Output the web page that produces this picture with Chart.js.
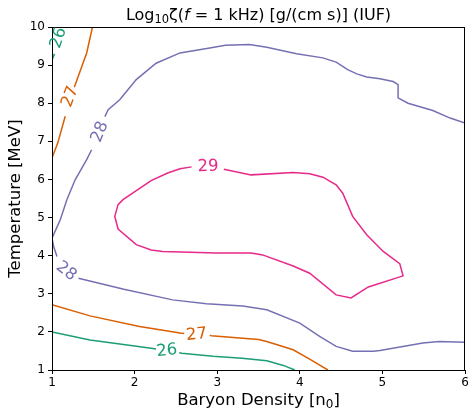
<!DOCTYPE html>
<html>
<head>
<meta charset="utf-8">
<script src="https://cdn.jsdelivr.net/npm/chart.js@4"></script>
<style>
  html, body { margin: 0; padding: 0; background: #fff; }
  #wrap { width: 468px; height: 411px; }
</style>
</head>
<body>
<div id="wrap"><canvas id="plot" width="468" height="411"></canvas></div>
<script>
// contour lines, [density, temperature]; [x, null] breaks the line where a label sits
var c26_low = [[1,2.0],[1.46,1.79],[2.0,1.63],[2.2,1.57],[2.26,1.55],[2.4,null],[2.54,1.45],[2.57,1.44],[2.95,1.36],[3.3,1.31],[3.6,1.24],[3.8,1.12],[3.94,1.0]];
var c26_top = [[1,9.13],[1.03,9.3],[1.05,null],[1.1,10]];
var c27_low = [[1,2.71],[1.46,2.42],[2.06,2.14],[2.55,1.97],[2.6,1.96],[2.75,null],[2.91,1.91],[2.93,1.90],[3.5,1.80],[3.6,1.75],[3.92,1.53],[4.13,1.27],[4.34,1.0]];
var c27_top = [[1,6.56],[1.07,6.96],[1.16,7.66],[1.2,null],[1.27,8.42],[1.42,9.32],[1.49,10]];
var c28 = [[6,7.48],[5.82,7.61],[5.61,7.81],[5.31,8.0],[5.19,8.14],[5.19,8.49],[5.13,8.57],[4.97,8.64],[4.81,8.69],[4.69,8.77],[4.58,8.88],[4.44,9.08],[4.28,9.19],[3.96,9.30],[3.6,9.47],[3.39,9.54],[3.1,9.52],[2.91,9.45],[2.55,9.32],[2.26,9.05],[2.02,8.62],[1.82,8.09],[1.68,7.83],[1.64,7.65],[1.57,null],[1.48,6.78],[1.42,6.52],[1.28,5.99],[1.18,5.47],[1.10,4.94],[1.0,4.46],[1.02,4.24],[1.06,3.98],[1.15,null],[1.32,3.41],[1.87,3.12],[2.46,2.84],[2.87,2.74],[3.31,2.68],[3.6,2.58],[4.0,2.23],[4.24,1.88],[4.44,1.62],[4.64,1.49],[4.89,1.49],[4.97,1.51],[5.49,1.71],[5.69,1.75],[6,1.73]];
var c29 = [[3.08,6.27],[3.41,6.12],[3.92,6.18],[4.12,6.15],[4.28,6.06],[4.44,5.86],[4.52,5.64],[4.64,5.03],[4.81,4.55],[5.01,4.11],[5.21,3.79],[5.25,3.47],[4.83,3.18],[4.62,2.89],[4.44,2.97],[4.12,3.54],[3.92,3.73],[3.55,4.02],[3.41,4.07],[2.99,4.07],[2.34,4.11],[2.20,4.15],[2.02,4.29],[1.80,4.70],[1.76,5.03],[1.80,5.34],[1.86,5.47],[2.20,5.97],[2.40,6.17],[2.55,6.28],[2.69,6.33]];

// inline contour labels: text, x, y, rotation (deg)
var labelText  = ['26', '26', '27', '27', '28', '28', '29'];
var labelX     = [1.07, 2.39, 1.21, 2.75, 1.57, 1.18, 2.89];
var labelY     = [9.72, 1.53, 8.18, 1.95, 7.26, 3.61, 6.36];
var labelAngle = [-72, -6, -69, -5, -68, 38, -2];
var labelColor = ['#1b9e77', '#1b9e77', '#d95f02', '#d95f02', '#7570b3', '#7570b3', '#e7298a'];

var xTicks = [1, 2, 3, 4, 5, 6];
var yTicks = [1, 2, 3, 4, 5, 6, 7, 8, 9, 10];

function pts(arr) {
    return arr.map(function (p) { return {x: p[0], y: p[1]}; });
}

function line(arr, color) {
    return {
        data: pts(arr),
        borderColor: color,
        backgroundColor: color,
        borderWidth: 1.5,
        showLine: true,
        spanGaps: false,
        pointRadius: 0,
        tension: 0
    };
}

var FONT = '"DejaVu Sans", sans-serif';

// frame, contour labels, title and axis titles
var decor = {
    id: 'decor',
    afterDatasetsDraw: function (chart) {
        var ctx = chart.ctx, a = chart.chartArea;
        var xs = chart.scales.x, ys = chart.scales.y;
        ctx.save();
        ctx.strokeStyle = '#000';
        ctx.lineWidth = 1;
        ctx.strokeRect(a.left + 0.5, a.top + 0.5, a.right - a.left - 1, a.bottom - a.top);

        ctx.font = '16.5px ' + FONT;
        ctx.textAlign = 'center';
        ctx.textBaseline = 'middle';
        for (var i = 0; i < labelText.length; i++) {
            ctx.save();
            ctx.translate(xs.getPixelForValue(labelX[i]), ys.getPixelForValue(labelY[i]));
            ctx.rotate(labelAngle[i] * Math.PI / 180);
            ctx.fillStyle = labelColor[i];
            ctx.fillText(labelText[i], 0, 1);
            ctx.restore();
        }

        ctx.fillStyle = '#000';
        ctx.textBaseline = 'alphabetic';
        ctx.textAlign = 'left';
        var cx = (a.left + a.right) / 2;

        // title: Log10 ζ(f = 1 kHz) [g/(cm s)] (IUF)
        var parts = [
            ['Log', '16px ' + FONT, 0],
            ['10', '11.5px ' + FONT, 3],
            ['ζ(', '16px ' + FONT, 0],
            ['f', 'oblique 16px ' + FONT, 0],
            [' = 1 kHz) [g/(cm s)] (IUF)', '16px ' + FONT, 0]
        ];
        drawParts(ctx, parts, cx, 20);

        // x axis title
        var xp = [
            ['Baryon Density [n', '16.5px ' + FONT, 0],
            ['0', '12px ' + FONT, 3],
            [']', '16.5px ' + FONT, 0]
        ];
        drawParts(ctx, xp, cx, 405);

        // y axis title
        ctx.save();
        ctx.translate(20, (a.top + a.bottom) / 2);
        ctx.rotate(-Math.PI / 2);
        ctx.font = '16.5px ' + FONT;
        ctx.textAlign = 'center';
        ctx.fillText('Temperature [MeV]', 0, 0);
        ctx.restore();
        ctx.restore();
    }
};

function drawParts(ctx, parts, cx, y) {
    var w = 0;
    parts.forEach(function (p) { ctx.font = p[1]; w += ctx.measureText(p[0]).width; });
    var x = cx - w / 2;
    parts.forEach(function (p) {
        ctx.font = p[1];
        ctx.fillText(p[0], x, y + p[2]);
        x += ctx.measureText(p[0]).width;
    });
}

var tickFont = {family: FONT, size: 12};

new Chart(document.getElementById('plot'), {
    type: 'scatter',
    data: {
        datasets: [
            line(c26_low, '#1b9e77'),
            line(c26_top, '#1b9e77'),
            line(c27_low, '#d95f02'),
            line(c27_top, '#d95f02'),
            line(c28, '#7570b3'),
            line(c29, '#e7298a')
        ]
    },
    options: {
        responsive: false,
        animation: false,
        devicePixelRatio: 1,
        layout: {padding: {top: 27, right: 3, left: 0, bottom: 0}},
        plugins: {legend: {display: false}, tooltip: {enabled: false}, title: {display: false}},
        scales: {
            x: {
                type: 'linear',
                min: 1, max: 6,
                afterFit: function (s) { s.height = 41; s.paddingLeft = 0; s.paddingRight = 0; },
                afterBuildTicks: function (s) { s.ticks = xTicks.map(function (v) { return {value: v}; }); },
                ticks: {font: tickFont, color: '#000', padding: 2, maxRotation: 0},
                grid: {drawOnChartArea: false, drawTicks: true, tickLength: 4, tickColor: '#000'},
                border: {display: true, color: '#000', width: 1}
            },
            y: {
                type: 'linear',
                min: 1, max: 10,
                afterFit: function (s) { s.width = 52; s.paddingTop = 0; s.paddingBottom = 0; },
                afterBuildTicks: function (s) { s.ticks = yTicks.map(function (v) { return {value: v}; }); },
                ticks: {font: tickFont, color: '#000', padding: 3},
                grid: {drawOnChartArea: false, drawTicks: true, tickLength: 4, tickColor: '#000'},
                border: {display: true, color: '#000', width: 1}
            }
        }
    },
    plugins: [decor]
});
</script>
</body>
</html>
